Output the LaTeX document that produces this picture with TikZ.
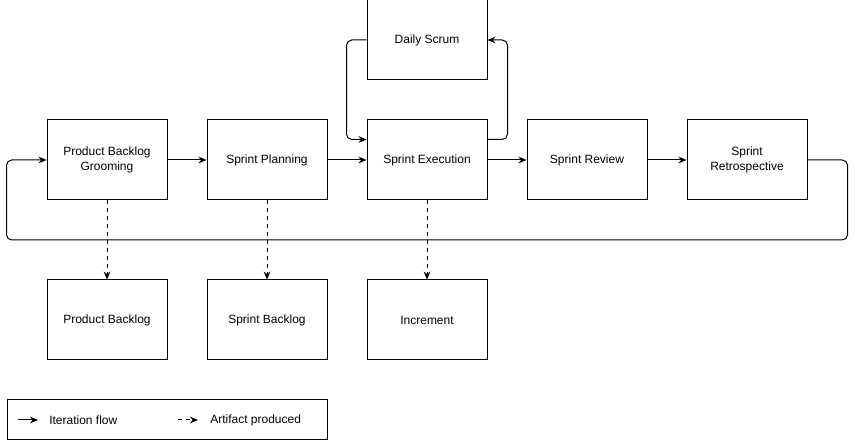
\documentclass[tikz,border=0pt]{standalone}
\usepackage{fontspec}
\setmainfont{Liberation Sans}
\usepackage{tikz}
\usetikzlibrary{arrows.meta,positioning,calc}

\begin{document}
\begin{tikzpicture}[
  x=0.75pt, y=-0.75pt,
  font=\fontsize{9}{11}\selectfont,
  >={Stealth[length=6pt,width=5pt]},
  stagebox/.style={
    draw=black,
    fill=white,
    line width=0.75pt,
    minimum width=90pt,
    minimum height=60pt,
    align=center,
    inner sep=2pt
  },
  flowarrow/.style={
    ->,
    line width=0.75pt,
    draw=black,
    rounded corners=4pt
  },
  artifactarrow/.style={
    ->,
    line width=0.75pt,
    draw=black,
    dash pattern=on 3pt off 3pt
  },
  legendtext/.style={
    anchor=west,
    inner sep=0pt
  }
]
  \useasboundingbox (0,0) rectangle (857,441);

  % ----------------------------------------------------
  % SPRINT CYCLE STAGES
  % ----------------------------------------------------
  \node[stagebox] (grooming) at (107,160) {Product Backlog\\Grooming};
  \node[stagebox] (planning) at (267,160) {Sprint Planning};
  \node[stagebox] (execution) at (427,160) {Sprint Execution};
  \node[stagebox] (review) at (587,160) {Sprint Review};
  \node[stagebox] (retro) at (747,160) {Sprint\\Retrospective};

  % Daily Scrum above execution
  \node[stagebox] (scrum) at (427,40) {Daily Scrum};

  % ----------------------------------------------------
  % ARTIFACTS
  % ----------------------------------------------------
  \node[stagebox] (pbacklog) at (107,320) {Product Backlog};
  \node[stagebox] (sbacklog) at (267,320) {Sprint Backlog};
  \node[stagebox] (increment) at (427,320) {Increment};

  % Iteration flow between stages
  \draw[flowarrow] (grooming) -- (planning);
  \draw[flowarrow] (planning) -- (execution);
  \draw[flowarrow] (execution) -- (review);
  \draw[flowarrow] (review) -- (retro);

  % Feedback loop from retrospective back to grooming
  \draw[flowarrow] (retro.east) -- ++(40,0) |- ($(grooming.west)+(-40,80)$) |- (grooming.west);

  % Daily Scrum loop
  \draw[flowarrow] ($(execution.north east)+(0,20)$) -- ++(20,0) |- (scrum.east);
  \draw[flowarrow] (scrum.west) -- ++(-20,0) |- ($(execution.north west)+(0,20)$);

  % Artifacts produced
  \draw[artifactarrow] (grooming) -- (pbacklog);
  \draw[artifactarrow] (planning) -- (sbacklog);
  \draw[artifactarrow] (execution) -- (increment);

  % ----------------------------------------------------
  % LEGEND
  % ----------------------------------------------------
  \node[draw=black, line width=0.75pt, minimum width=240pt, minimum height=30pt,
    inner sep=0pt] (legend) at (167,420) {};
  \coordinate (flowstart) at (18,420);
  \coordinate (flowend) at (38,420);
  \coordinate (artstart) at (178,420);
  \coordinate (artend) at (198,420);
  \draw[flowarrow] (flowstart) -- (flowend);
  \node[legendtext] (flowlabel) at (49,420) {Iteration flow};
  \draw[artifactarrow] (artstart) -- (artend);
  \node[legendtext] (artlabel) at (210,420) {Artifact produced};

\end{tikzpicture}
\end{document}
